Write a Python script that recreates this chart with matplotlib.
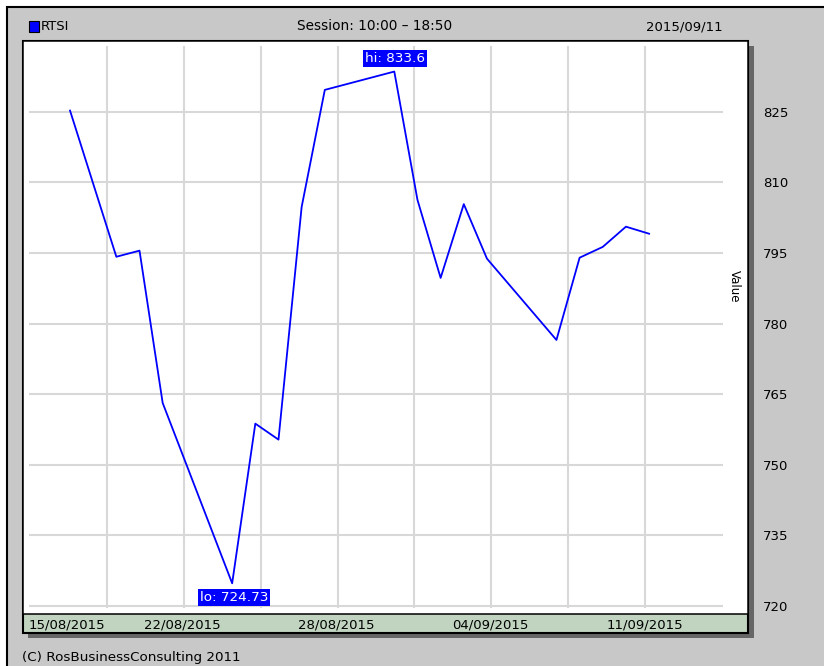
import matplotlib; matplotlib.use('Agg')
import matplotlib.pyplot as plt
from matplotlib.patches import Rectangle
import pandas as pd

# RTSI daily closes, 17/08/2015 .. 11/09/2015
dates = ['2015-08-17', '2015-08-19', '2015-08-20', '2015-08-21', '2015-08-24',
         '2015-08-25', '2015-08-26', '2015-08-27', '2015-08-28', '2015-08-31',
         '2015-09-01', '2015-09-02', '2015-09-03', '2015-09-04', '2015-09-07',
         '2015-09-08', '2015-09-09', '2015-09-10', '2015-09-11']
values = [825.3, 794.2, 795.5, 763.1, 724.73, 758.7, 755.3, 804.8, 829.7, 833.6,
          806.3, 789.7, 805.4, 793.8, 776.5, 794.0, 796.3, 800.6, 799.1]

y_ticks = [720, 735, 750, 765, 780, 795, 810, 825]
x_labels = ['15/08/2015', '22/08/2015', '28/08/2015', '04/09/2015', '11/09/2015']
x_label_pos = [-0.13, 4.85, 11.5, 18.15, 24.8]   # days from 17/08
x_grid = [1.60, 4.92, 8.24, 11.55, 14.87, 18.19, 21.51, 24.83]

BG = '#c8c8c8'
BAND = '#c0d4c0'
BLUE = '#0000ff'
GRID = '#d8d8d8'
W, H = 824, 666
FONT = 'DejaVu Sans'

t0 = pd.Timestamp('2015-08-17')
days = [(pd.Timestamp(d) - t0).days for d in dates]

fig = plt.figure(figsize=(W / 100, H / 100), dpi=100, facecolor='white')

# background / frame layer in pixel coordinates
bg = fig.add_axes([0, 0, 1, 1], zorder=0)
bg.set_xlim(0, W); bg.set_ylim(H, 0); bg.axis('off')
bg.add_patch(Rectangle((7, 7), W, H, fc=BG, ec='black', lw=1.5))
bg.add_patch(Rectangle((28, 46), 726, 592, fc='#666666', ec='none'))   # shadow
bg.add_patch(Rectangle((23, 41), 725, 592, fc=BAND, ec='black', lw=1.5))

bg.add_patch(Rectangle((29, 21), 10, 11, fc=BLUE, ec='black', lw=0.8))
bg.text(41, 26.5, 'RTSI', family=FONT, fontsize=9.5, ha='left', va='center')
bg.text(375, 26.5, 'Session: 10:00 \u2013 18:50', family=FONT, fontsize=9.8,
        ha='center', va='center')
bg.text(684, 26.5, '2015/09/11', family=FONT, fontsize=9.5, ha='center', va='center')
bg.text(22, 657, '(C) RosBusinessConsulting 2011', family=FONT, fontsize=9.7,
        ha='left', va='center')

# main plot
ax = fig.add_axes([23 / W, 1 - 614 / H, 725 / W, 573 / H], zorder=1)
ax.set_facecolor('white')
ax.set_xlim(-2.03, 29.27)
ax.set_ylim(718.2, 840.1)

ax.hlines(y_ticks, -1.77, 28.2, color=GRID, lw=1.5, zorder=1)
ax.vlines(x_grid, 719.5, 839.1, color=GRID, lw=1.5, zorder=1)

ax.plot(days, values, color=BLUE, lw=1.3, zorder=3)

i_lo = values.index(min(values))
i_hi = values.index(max(values))
ax.annotate(f'lo: {values[i_lo]:.2f}', (days[i_lo], values[i_lo]),
            xytext=(1.5, -10), textcoords='offset points', ha='center', va='center',
            color='white', family=FONT, fontsize=9.7, zorder=4,
            bbox=dict(boxstyle='square,pad=0.15', fc=BLUE, ec='none'))
ax.annotate(f'hi: {values[i_hi]:.1f}', (days[i_hi], values[i_hi]),
            xytext=(0.7, 9.5), textcoords='offset points', ha='center', va='center',
            color='white', family=FONT, fontsize=9.7, zorder=4,
            bbox=dict(boxstyle='square,pad=0.15', fc=BLUE, ec='none'))

ax.yaxis.tick_right()
ax.set_yticks(y_ticks)
ax.set_yticklabels([str(v) for v in y_ticks], family=FONT, fontsize=9.5)
ax.tick_params(axis='y', length=0, pad=11)
ax.set_xticks(x_label_pos)
ax.set_xticklabels(x_labels, family=FONT, fontsize=9.5)
ax.tick_params(axis='x', length=0, pad=3)

ax.text(1.0 - 14 / 725, 1 - 245 / 573, 'Value', transform=ax.transAxes,
        rotation=270, family=FONT, fontsize=8.5, ha='center', va='center')

for s in ax.spines.values():
    s.set_color('black'); s.set_linewidth(1.1)

fig.savefig('out.png', dpi=100, facecolor='white')
